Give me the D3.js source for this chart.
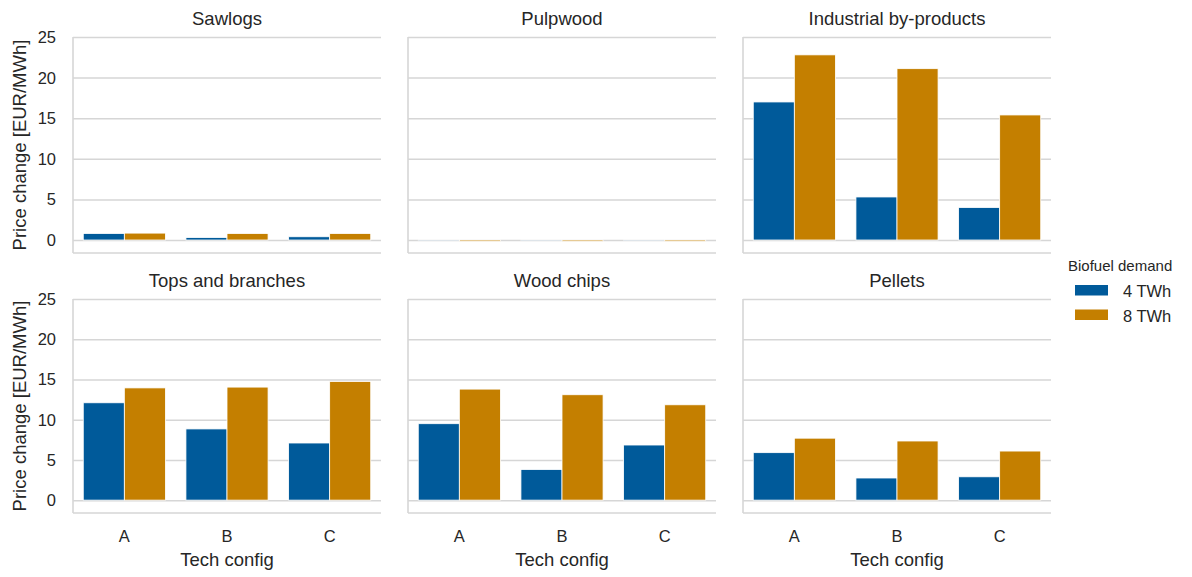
<!DOCTYPE html>
<html>
<head>
<meta charset="utf-8">
<script src="https://cdn.jsdelivr.net/npm/d3@7"></script>
<style>
  body { margin: 0; background: #fff; }
  text { font-family: "Liberation Sans", Arial, sans-serif; fill: #262626; }
</style>
</head>
<body>
<script>
// data
var panels = ["Sawlogs", "Pulpwood", "Industrial by-products",
              "Tops and branches", "Wood chips", "Pellets"]
var configs = ["A", "B", "C"]
var demands = ["4 TWh", "8 TWh"]
var yTicks = [0, 5, 10, 15, 20, 25]

// one array per demand level, one row per panel, columns A B C
var twh4 = [
  [0.8, 0.3, 0.4],
  [-0.02, -0.02, -0.02],
  [17.0, 5.3, 4.0],
  [12.1, 8.85, 7.1],
  [9.5, 3.8, 6.85],
  [5.9, 2.75, 2.9]
]
var twh8 = [
  [0.85, 0.8, 0.8],
  [-0.15, -0.15, -0.15],
  [22.8, 21.1, 15.4],
  [13.95, 14.05, 14.75],
  [13.8, 13.1, 11.85],
  [7.7, 7.35, 6.1]
]

var colors = ["#005a9a", "#c47f00"]
var gridColor = "#d6d6d6"

var W = 1192, H = 577
var panelLeft = [73, 408, 743], panelWidth = 308
var rowTop = [37, 299], rowBottom = [253, 513]

var svg = d3.select("body").append("svg")
  .attr("width", W)
  .attr("height", H)

var x = d3.scaleBand()
  .domain(configs)
  .range([0, panelWidth])
  .paddingInner(0.2)
  .paddingOuter(0.1)

var xSub = d3.scaleBand()
  .domain(demands)
  .range([0, x.bandwidth()])

panels.forEach(function(name, i) {
  var row = Math.floor(i / 3), col = i % 3

  var y = d3.scaleLinear()
    .domain([-1.6, 25])
    .range([rowBottom[row], rowTop[row]])

  var g = svg.append("g")
    .attr("transform", "translate(" + panelLeft[col] + ",0)")

  // horizontal grid
  var yAxis = d3.axisLeft(y).tickValues(yTicks).tickSize(-panelWidth).tickFormat("")
  var grid = g.append("g").call(yAxis)
  grid.select(".domain").remove()
  grid.selectAll("line").attr("stroke", gridColor).attr("stroke-width", 1.5)

  // tick labels only on the first column
  if (col == 0) {
    g.selectAll(".ylab")
      .data(yTicks)
      .enter()
      .append("text")
      .attr("x", -17)
      .attr("y", function(d) { return y(d) })
      .attr("dy", "0.36em")
      .attr("text-anchor", "end")
      .style("font-size", "16.5px")
      .text(function(d) { return d })

    svg.append("text")
      .attr("transform", "translate(26," + ((rowTop[row] + rowBottom[row]) / 2) + ") rotate(-90)")
      .attr("text-anchor", "middle")
      .style("font-size", "18.5px")
      .text("Price change [EUR/MWh]")
  }

  // bars
  var rows = configs.map(function(c, j) {
    return [{config: c, demand: demands[0], v: twh4[i][j], k: 0},
            {config: c, demand: demands[1], v: twh8[i][j], k: 1}]
  })
  var flat = [].concat.apply([], rows)

  g.selectAll("rect.bar")
    .data(flat)
    .enter()
    .append("rect")
    .attr("class", "bar")
    .attr("x", function(d) { return x(d.config) + xSub(d.demand) })
    .attr("width", xSub.bandwidth())
    .attr("y", function(d) { return y(Math.max(0, d.v)) })
    .attr("height", function(d) { return Math.abs(y(d.v) - y(0)) })
    .attr("fill", function(d) { return colors[d.k] })
    .attr("stroke", "#fff")
    .attr("stroke-width", 0.8)

  // spines: left and bottom
  g.append("line")
    .attr("x1", 0).attr("x2", 0)
    .attr("y1", rowTop[row]).attr("y2", rowBottom[row])
    .attr("stroke", gridColor).attr("stroke-width", 1.6)
  g.append("line")
    .attr("x1", 0).attr("x2", panelWidth)
    .attr("y1", rowBottom[row]).attr("y2", rowBottom[row])
    .attr("stroke", gridColor).attr("stroke-width", 1.6)

  // title
  g.append("text")
    .attr("x", panelWidth / 2)
    .attr("y", rowTop[row] - 12.5)
    .attr("text-anchor", "middle")
    .style("font-size", "18.5px")
    .text(name)

  // x labels on the bottom row
  if (row == 1) {
    g.selectAll(".xlab")
      .data(configs)
      .enter()
      .append("text")
      .attr("x", function(d) { return x(d) + x.bandwidth() / 2 })
      .attr("y", 542)
      .attr("text-anchor", "middle")
      .style("font-size", "16.5px")
      .text(function(d) { return d })

    g.append("text")
      .attr("x", panelWidth / 2)
      .attr("y", 566)
      .attr("text-anchor", "middle")
      .style("font-size", "18.5px")
      .text("Tech config")
  }
})

// legend
var legend = svg.append("g").attr("transform", "translate(1068,0)")
legend.append("text")
  .attr("x", 0)
  .attr("y", 271)
  .style("font-size", "15px")
  .text("Biofuel demand")

demands.forEach(function(d, k) {
  legend.append("rect")
    .attr("x", 7)
    .attr("y", 285 + k * 24.5)
    .attr("width", 33)
    .attr("height", 10.5)
    .attr("fill", colors[k])
  legend.append("text")
    .attr("x", 55)
    .attr("y", 296.5 + k * 25)
    .style("font-size", "16.5px")
    .text(d)
})
</script>
</body>
</html>
